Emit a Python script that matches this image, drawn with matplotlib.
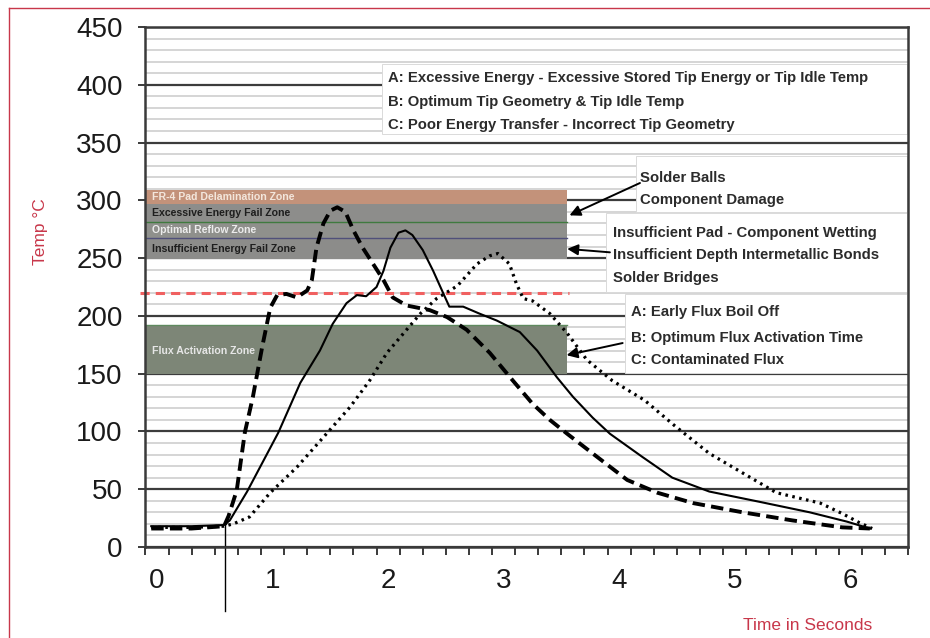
import numpy as np
import matplotlib
matplotlib.use("Agg")
import matplotlib.pyplot as plt
from matplotlib.patches import Rectangle

# ---- profile data (time in s, temperature in °C) ----
t_excess = [-0.05, 0.30, 0.58, 0.62, 0.69, 0.76, 0.83, 0.91, 0.98, 1.04, 1.12, 1.21,
            1.30, 1.34, 1.38, 1.44, 1.50, 1.56, 1.63, 1.70, 1.78, 1.87, 1.96, 2.04,
            2.16, 2.36, 2.51, 2.68, 2.88, 3.08, 3.25, 3.40, 3.55, 3.77, 4.07, 4.33,
            4.64, 5.07, 5.50, 5.93, 6.17]
temp_excess = [16, 16, 18, 27, 49, 99, 130, 173, 207, 218, 219, 216,
               222, 231, 259, 280, 291, 294, 290, 274, 259, 245, 231, 216,
               209, 205, 199, 188, 168, 144, 124, 110, 98, 81, 58, 47,
               38, 30, 23, 17, 16]

t_optimum = [-0.05, 0.30, 0.58, 0.63, 0.78, 1.05, 1.24, 1.41, 1.52, 1.64, 1.73, 1.81,
             1.90, 1.96, 2.02, 2.09, 2.15, 2.21, 2.30, 2.39, 2.48, 2.53, 2.65, 2.79,
             2.94, 3.14, 3.29, 3.46, 3.60, 3.77, 3.92, 4.20, 4.46, 4.78, 5.22, 5.65,
             5.97, 6.17]
temp_optimum = [18, 18, 19, 23, 48, 99, 142, 170, 193, 211, 218, 217,
                225, 239, 259, 272, 274, 270, 257, 239, 219, 208, 208, 202,
                196, 186, 170, 147, 130, 112, 98, 78, 60, 48, 39, 30,
                22, 16]

t_poor = [-0.05, 0.30, 0.58, 0.66, 0.80, 0.98, 1.21, 1.44, 1.67, 1.84, 1.99, 2.16,
          2.28, 2.42, 2.60, 2.77, 2.88, 2.95, 3.05, 3.11, 3.17, 3.25, 3.40, 3.55,
          3.72, 3.94, 4.22, 4.48, 4.78, 5.07, 5.36, 5.74, 5.93, 6.08, 6.19]
temp_poor = [17, 17, 18, 20, 26, 47, 69, 95, 121, 144, 168, 188,
             202, 215, 226, 245, 252, 254, 245, 228, 215, 213, 202, 185,
             162, 144, 127, 105, 81, 64, 47, 38, 29, 21, 16]

# ---- process zones (label, bottom, top) ----
zone_labels = ["FR-4 Pad Delamination Zone", "Excessive Energy Fail Zone",
               "Optimal Reflow Zone", "Insufficient Energy Fail Zone",
               "Flux Activation Zone"]
zone_bottom = [297, 281, 267, 249, 150]
zone_top = [309, 297, 281, 267, 192]
zone_end = 3.55
liquidus = 220

y_ticks = list(range(0, 451, 50))
x_ticklabels = ["0", "1", "2", "3", "4", "5", "6"]

tip_notes = ["A: Excessive Energy - Excessive Stored Tip Energy or Tip Idle Temp",
             "B: Optimum Tip Geometry & Tip Idle Temp",
             "C: Poor Energy Transfer - Incorrect Tip Geometry"]
high_notes = ["Solder Balls", "Component Damage"]
low_notes = ["Insufficient Pad - Component Wetting",
             "Insufficient Depth Intermetallic Bonds", "Solder Bridges"]
flux_notes = ["A: Early Flux Boil Off", "B: Optimum Flux Activation Time",
              "C: Contaminated Flux"]

RED = "#c8374a"
INK = "#2b2b2b"
SANS = ["Liberation Sans", "DejaVu Sans"]

fig = plt.figure(figsize=(9.3, 6.38), dpi=100)
ax = fig.add_axes([145 / 930, 91 / 638, 763 / 930, 520 / 638])
ax.set_xlim(-0.104, 6.493)
ax.set_ylim(0, 450)

# grid: light every 10, dark every 50
ax.set_yticks(y_ticks)
ax.set_yticks([v for v in range(10, 450, 10) if v % 50], minor=True)
ax.yaxis.grid(True, which="minor", color="#d2d2d2", lw=1.3, zorder=0)
ax.yaxis.grid(True, which="major", color="#3c3c3c", lw=1.6, zorder=0)
ax.set_axisbelow(True)

# zone bands
zone_colors = ["#c3927a", "#8d8d8b", "#8f908c", "#8c8c8a", "#7d8677"]
zone_text_colors = ["#f3e6dc", "#1e1e1e", "#ececec", "#1e1e1e", "#e6e6e6"]
for lab, lo, hi, fc, tc in zip(zone_labels, zone_bottom, zone_top, zone_colors, zone_text_colors):
    ax.add_patch(Rectangle((-0.104, lo), zone_end + 0.104, hi - lo, facecolor=fc,
                           edgecolor="none", zorder=1))
    ax.text(-0.04, (lo + hi) / 2 if hi - lo < 25 else 170, lab, fontsize=7.6,
            fontweight="bold", color=tc, va="center", ha="left", zorder=2,
            family=SANS)
ax.plot([-0.104, zone_end], [281, 281], color="#3f7a3f", lw=1.0, zorder=1.5)
ax.plot([-0.104, zone_end], [267, 267], color="#50507a", lw=1.0, zorder=1.5)
ax.plot([-0.104, zone_end], [192, 192], color="#5f8a5f", lw=1.0, zorder=1.5)

# white note boxes on the right
boxes = [(1.95, 357, 418), (4.15, 290, 338), (3.89, 221, 289), (4.05, 151, 219)]
for x0, y0, y1 in boxes:
    ax.add_patch(Rectangle((x0, y0), 6.493 - x0, y1 - y0, facecolor="white",
                           edgecolor="#dadada", lw=0.7, zorder=1.6))

# liquidus line
ax.plot([-0.15, 3.57], [liquidus, liquidus], color="#f06060", lw=2.2,
        dashes=(3, 2), zorder=2.5, clip_on=False)

# temperature profiles
ax.plot(t_excess, temp_excess, color="black", lw=2.8, dashes=(3.2, 1.6), zorder=3)
ax.plot(t_optimum, temp_optimum, color="black", lw=1.5, zorder=3)
ax.plot(t_poor, temp_poor, color="black", lw=2.3, dashes=(0.8, 1.4), zorder=3)

# start marker below the axis
ax.plot([0.59, 0.59], [20, -55], color="black", lw=1.0, zorder=3, clip_on=False)

# note text
def note_lines(x, ys, lines):
    for y, s in zip(ys, lines):
        ax.text(x, y, s, fontsize=10.7, fontweight="bold", color=INK, va="center",
                ha="left", family=SANS, zorder=4)

note_lines(1.997, [406, 385, 365], tip_notes)
note_lines(4.18, [319, 300], high_notes)
note_lines(3.945, [272, 253, 233], low_notes)
note_lines(4.10, [203, 181, 162], flux_notes)

arrow = dict(arrowstyle="-|>", color="black", lw=1.4, mutation_scale=16,
             shrinkA=0, shrinkB=0)
ax.annotate("", xy=(3.57, 287), xytext=(4.18, 315), arrowprops=arrow, zorder=4)
ax.annotate("", xy=(3.55, 258), xytext=(3.92, 255), arrowprops=arrow, zorder=4)
ax.annotate("", xy=(3.545, 166), xytext=(4.03, 176.5), arrowprops=arrow, zorder=4)

# axes styling
for side in ["left", "right", "top", "bottom"]:
    ax.spines[side].set_color("#3a3a3a")
    ax.spines[side].set_linewidth(1.8)
    ax.spines[side].set_zorder(5)

ax.tick_params(axis="y", which="major", direction="out", length=5, width=1.4,
               color="#3a3a3a", pad=11, labelsize=20, labelcolor="#1a1a1a")
ax.tick_params(axis="y", which="minor", length=0)
ax.set_yticklabels([str(v) for v in y_ticks], family=SANS)

ax.set_xticks(range(len(x_ticklabels)))
ax.set_xticklabels(x_ticklabels, family=SANS)
ax.set_xticks(np.arange(-0.1, 6.55, 0.2), minor=True)
ax.tick_params(axis="x", which="major", length=0, pad=15, labelsize=20,
               labelcolor="#1a1a1a")
ax.tick_params(axis="x", which="minor", direction="out", length=6, width=1.4,
               color="#3a3a3a")

fig.text(40 / 930, 406 / 638, "Temp °C", rotation=90, color=RED, fontsize=12.5,
         ha="center", va="center", family=SANS)
fig.text(808 / 930, 12 / 638, "Time in Seconds", color=RED, fontsize=12.5,
         ha="center", va="center", family=SANS)

# thin red frame
fig.add_artist(plt.Line2D([9 / 930, 9 / 930], [0, 630 / 638], color=RED, lw=1.0))
fig.add_artist(plt.Line2D([9 / 930, 1], [630 / 638, 630 / 638], color=RED, lw=1.0))

fig.savefig("out.png", dpi=100)
